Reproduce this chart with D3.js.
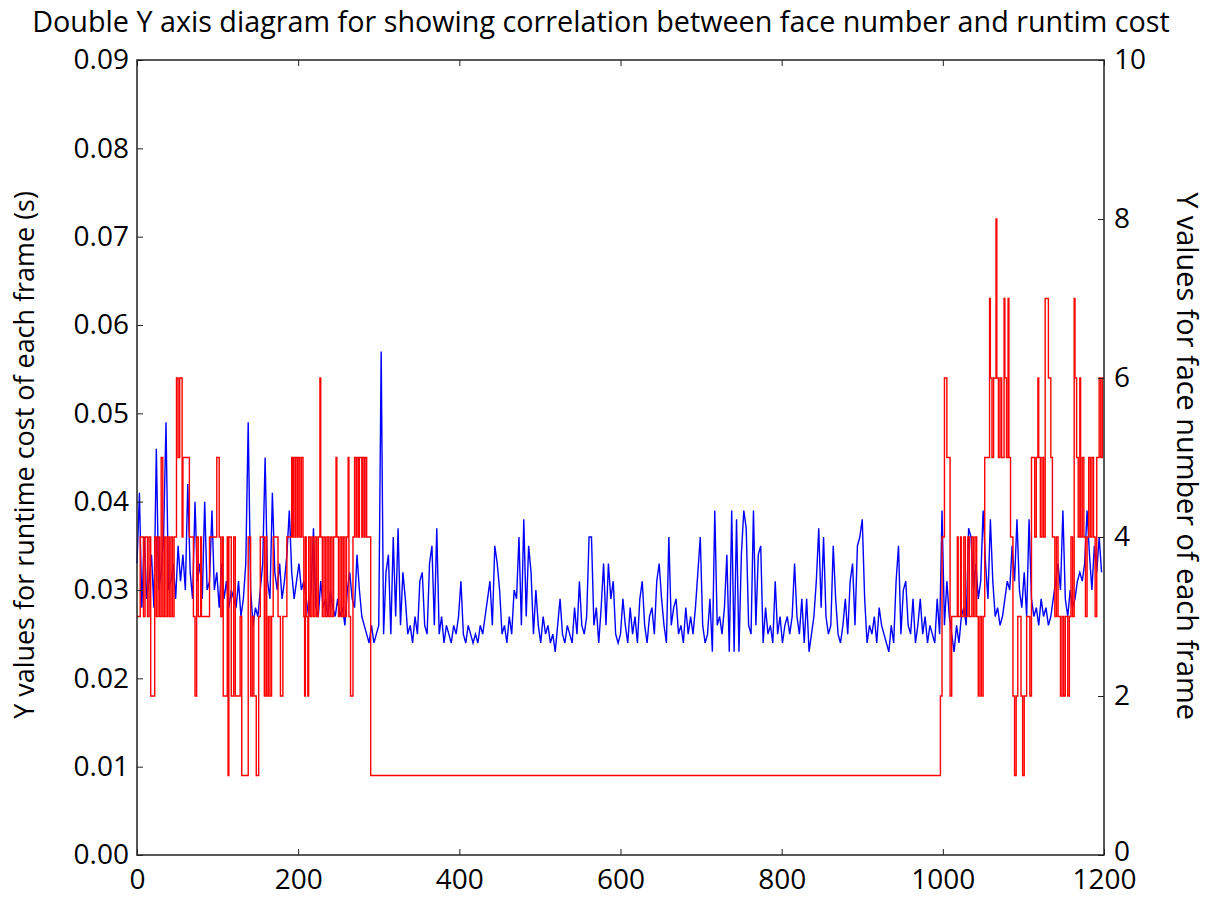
<!DOCTYPE html>
<html>
<head>
<meta charset="utf-8">
<script src="https://cdn.jsdelivr.net/npm/d3@7"></script>
<style>
  body { margin: 0; background: #fff; }
  text { font-family: "Open Sans", "Noto Sans", sans-serif; fill: #000; }
</style>
</head>
<body>
<div id="chart"></div>
<script>
// runtime cost per frame (s), read every 3rd frame starting at frame 0
const runtimeStep = 3;
const runtimeCost = [
  0.033, 0.041, 0.028, 0.036, 0.029, 0.031, 0.034, 0.028, 0.046, 0.030,
  0.032, 0.036, 0.049, 0.030, 0.031, 0.033, 0.029, 0.035, 0.031, 0.034,
  0.030, 0.042, 0.032, 0.029, 0.040, 0.031, 0.033, 0.029, 0.040, 0.030,
  0.031, 0.039, 0.030, 0.032, 0.028, 0.033, 0.029, 0.031, 0.028, 0.030,
  0.029, 0.028, 0.031, 0.027, 0.029, 0.033, 0.049, 0.030, 0.026, 0.028,
  0.027, 0.030, 0.033, 0.045, 0.031, 0.029, 0.041, 0.032, 0.030, 0.033,
  0.029, 0.031, 0.034, 0.039, 0.032, 0.029, 0.031, 0.033, 0.030, 0.031,
  0.029, 0.027, 0.030, 0.037, 0.028, 0.027, 0.031, 0.028, 0.029, 0.027,
  0.030, 0.028, 0.027, 0.029, 0.027, 0.028, 0.026, 0.030, 0.032, 0.029,
  0.028, 0.034, 0.030, 0.027, 0.026, 0.025, 0.024, 0.026, 0.024, 0.025,
  0.026, 0.057, 0.025, 0.032, 0.034, 0.025, 0.036, 0.027, 0.037, 0.026,
  0.032, 0.029, 0.025, 0.026, 0.024, 0.027, 0.025, 0.031, 0.032, 0.026,
  0.025, 0.033, 0.035, 0.026, 0.037, 0.025, 0.027, 0.024, 0.026, 0.025,
  0.024, 0.026, 0.025, 0.027, 0.031, 0.025, 0.024, 0.026, 0.025, 0.024,
  0.025, 0.024, 0.026, 0.025, 0.027, 0.029, 0.031, 0.026, 0.035, 0.033,
  0.030, 0.025, 0.026, 0.024, 0.027, 0.025, 0.030, 0.029, 0.036, 0.026,
  0.038, 0.027, 0.035, 0.032, 0.025, 0.030, 0.026, 0.024, 0.027, 0.025,
  0.026, 0.024, 0.025, 0.023, 0.026, 0.029, 0.025, 0.024, 0.026, 0.025,
  0.024, 0.028, 0.025, 0.031, 0.026, 0.025, 0.027, 0.036, 0.036, 0.026,
  0.028, 0.024, 0.028, 0.033, 0.026, 0.033, 0.029, 0.031, 0.025, 0.024,
  0.025, 0.029, 0.026, 0.024, 0.028, 0.025, 0.027, 0.024, 0.029, 0.031,
  0.026, 0.024, 0.027, 0.028, 0.025, 0.031, 0.033, 0.029, 0.026, 0.024,
  0.036, 0.026, 0.028, 0.029, 0.025, 0.026, 0.024, 0.028, 0.025, 0.027,
  0.025, 0.028, 0.032, 0.036, 0.026, 0.024, 0.025, 0.029, 0.023, 0.039,
  0.026, 0.027, 0.025, 0.028, 0.034, 0.023, 0.039, 0.023, 0.038, 0.023,
  0.034, 0.039, 0.037, 0.026, 0.025, 0.039, 0.026, 0.034, 0.035, 0.024,
  0.028, 0.025, 0.026, 0.024, 0.031, 0.025, 0.027, 0.024, 0.026, 0.027,
  0.025, 0.027, 0.033, 0.027, 0.025, 0.029, 0.024, 0.029, 0.023, 0.025,
  0.027, 0.031, 0.037, 0.028, 0.036, 0.027, 0.025, 0.026, 0.035, 0.029,
  0.025, 0.024, 0.026, 0.029, 0.025, 0.031, 0.033, 0.026, 0.035, 0.036,
  0.038, 0.029, 0.024, 0.026, 0.025, 0.027, 0.024, 0.028, 0.026, 0.025,
  0.024, 0.023, 0.026, 0.024, 0.031, 0.035, 0.025, 0.030, 0.031, 0.026,
  0.025, 0.029, 0.024, 0.026, 0.029, 0.025, 0.027, 0.024, 0.026, 0.025,
  0.024, 0.029, 0.025, 0.039, 0.026, 0.031, 0.027, 0.025, 0.023, 0.026,
  0.024, 0.027, 0.028, 0.026, 0.037, 0.036, 0.030, 0.033, 0.029, 0.031,
  0.039, 0.033, 0.029, 0.038, 0.031, 0.027, 0.028, 0.026, 0.027, 0.029,
  0.031, 0.030, 0.035, 0.031, 0.038, 0.030, 0.028, 0.032, 0.027, 0.038,
  0.029, 0.027, 0.028, 0.026, 0.029, 0.027, 0.028, 0.026, 0.027, 0.029,
  0.031, 0.033, 0.030, 0.039, 0.029, 0.027, 0.030, 0.028, 0.029, 0.031,
  0.032, 0.031, 0.033, 0.039, 0.034, 0.030, 0.035, 0.032, 0.036, 0.032
];

// face number: frame where the count changes, and the new count
const faceFrames = [
  0, 4, 8, 10, 13, 15, 17, 22, 24, 26, 28, 30, 32, 34, 36, 38, 40, 42, 44, 46,
  49, 51, 53, 56, 57, 65, 70, 72, 74, 76, 79, 80, 90, 99, 102, 104, 106, 107, 112, 113,
  114, 117, 120, 122, 128, 130, 138, 141, 143, 145, 148, 151, 153, 158, 160, 161, 163, 165, 167, 169,
  175, 178, 181, 186, 192, 193, 194, 196, 197, 199, 200, 202, 204, 206, 207, 208, 209, 210, 212, 213,
  215, 217, 219, 221, 223, 225, 227, 228, 230, 232, 234, 236, 238, 240, 242, 244, 247, 248, 250, 252,
  254, 256, 258, 260, 262, 263, 265, 268, 270, 272, 273, 275, 276, 279, 280, 282, 283, 285, 290, 997,
  999, 1002, 1005, 1009, 1011, 1018, 1019, 1022, 1023, 1026, 1028, 1031, 1033, 1036, 1038, 1040, 1042, 1044, 1046, 1048,
  1050, 1052, 1058, 1059, 1061, 1063, 1066, 1067, 1069, 1071, 1073, 1076, 1077, 1079, 1081, 1082, 1084, 1087, 1089, 1091,
  1093, 1097, 1099, 1101, 1104, 1108, 1110, 1114, 1116, 1118, 1119, 1121, 1123, 1125, 1127, 1131, 1134, 1136, 1139, 1141,
  1143, 1146, 1148, 1150, 1152, 1155, 1157, 1159, 1161, 1163, 1164, 1166, 1168, 1170, 1171, 1173, 1175, 1177, 1179, 1181,
  1183, 1185, 1187, 1189, 1191, 1194, 1196, 1198, 1200
];
const faceCount = [
  3, 4, 3, 4, 3, 4, 2, 4, 3, 4, 3, 5, 3, 4, 3, 4, 3, 4, 3, 4,
  6, 5, 6, 4, 5, 4, 3, 2, 4, 3, 4, 3, 4, 5, 4, 3, 4, 2, 4, 1,
  4, 2, 4, 2, 3, 1, 4, 2, 3, 2, 1, 3, 4, 2, 4, 2, 3, 2, 3, 4,
  3, 2, 3, 4, 5, 4, 5, 4, 5, 4, 5, 4, 5, 4, 3, 2, 4, 3, 2, 4,
  3, 4, 3, 4, 3, 4, 6, 4, 3, 4, 3, 4, 3, 4, 3, 4, 5, 4, 3, 4,
  3, 4, 3, 4, 5, 3, 2, 4, 5, 4, 5, 4, 5, 4, 5, 4, 5, 4, 1, 2,
  4, 6, 5, 2, 3, 4, 3, 4, 3, 4, 3, 4, 3, 4, 3, 4, 3, 2, 3, 2,
  3, 5, 7, 6, 5, 6, 8, 6, 5, 6, 5, 7, 6, 5, 7, 5, 4, 2, 1, 2,
  3, 2, 1, 2, 3, 2, 5, 4, 5, 6, 5, 4, 5, 4, 7, 6, 5, 4, 3, 4,
  3, 2, 3, 2, 3, 2, 3, 4, 3, 7, 6, 5, 4, 6, 4, 5, 4, 3, 4, 5,
  4, 5, 4, 3, 5, 6, 5, 6, 6
];

const xTicks = [0, 200, 400, 600, 800, 1000, 1200];
const leftTicks = [0, 0.01, 0.02, 0.03, 0.04, 0.05, 0.06, 0.07, 0.08, 0.09];
const rightTicks = [0, 2, 4, 6, 8, 10];

const W = 1216, H = 899;
const margin = { top: 60, right: 112, bottom: 44, left: 137 };
const iw = W - margin.left - margin.right;
const ih = H - margin.top - margin.bottom;

const svg = d3.select("#chart").append("svg")
  .attr("width", W)
  .attr("height", H);

const g = svg.append("g")
  .attr("transform", "translate(" + margin.left + "," + margin.top + ")");

const x = d3.scaleLinear().domain([0, 1200]).range([0, iw]);
const yL = d3.scaleLinear().domain([0, 0.09]).range([ih, 0]);
const yR = d3.scaleLinear().domain([0, 10]).range([ih, 0]);

const blueData = runtimeCost.map((v, i) => [i * runtimeStep, v]);
const redData = faceFrames.map((f, i) => [f, faceCount[i]]);

// runtime line (left axis)
g.append("path")
  .datum(blueData)
  .attr("fill", "none")
  .attr("stroke", "#0000ff")
  .attr("stroke-width", 1.4)
  .attr("d", d3.line().x(d => x(d[0])).y(d => yL(d[1])));

// face number line (right axis), drawn on top like a twinx plot
g.append("path")
  .datum(redData)
  .attr("fill", "none")
  .attr("stroke", "#ff0000")
  .attr("stroke-width", 1.4)
  .attr("d", d3.line().curve(d3.curveStepAfter).x(d => x(d[0])).y(d => yR(d[1])));

// axes with inward ticks
const tickLen = 6;
const fs = 28;

const xAxis = g.append("g")
  .attr("transform", "translate(0," + ih + ")")
  .call(d3.axisBottom(x).tickValues(xTicks).tickSizeInner(-tickLen).tickSizeOuter(0)
    .tickPadding(14).tickFormat(d3.format("d")));
const xTop = g.append("g")
  .call(d3.axisTop(x).tickValues(xTicks).tickSizeInner(-tickLen).tickSizeOuter(0).tickFormat(""));
const yAxisL = g.append("g")
  .call(d3.axisLeft(yL).tickValues(leftTicks).tickSizeInner(-tickLen).tickSizeOuter(0)
    .tickPadding(8).tickFormat(d3.format(".2f")));
const yAxisR = g.append("g")
  .attr("transform", "translate(" + iw + ",0)")
  .call(d3.axisRight(yR).tickValues(rightTicks).tickSizeInner(-tickLen).tickSizeOuter(0).tickPadding(10));

[xAxis, xTop, yAxisL, yAxisR].forEach(a => {
  a.select(".domain").remove();
  a.selectAll(".tick line").attr("stroke", "#222").attr("stroke-width", 1);
  a.selectAll("text").style("font-size", fs + "px").attr("fill", "#000");
});
xAxis.selectAll("text").attr("dy", "0.71em");
yAxisR.selectAll("text").filter(d => d === 0).attr("dy", "0.2em");

// frame
g.append("rect")
  .attr("width", iw)
  .attr("height", ih)
  .attr("fill", "none")
  .attr("stroke", "#222")
  .attr("stroke-width", 1.5);

// fit text to the width seen in the picture
function fit(sel, target) {
  const len = sel.node().getComputedTextLength();
  const size = parseFloat(sel.style("font-size"));
  sel.style("font-size", (size * target / len) + "px");
}

const title = svg.append("text")
  .attr("x", 601)
  .attr("y", 32)
  .attr("text-anchor", "middle")
  .style("font-size", "24px")
  .text("Double Y axis diagram for showing correlation between face number and runtim cost");
fit(title, 1138);

const labL = svg.append("text")
  .attr("transform", "translate(34," + 455 + ") rotate(-90)")
  .attr("text-anchor", "middle")
  .style("font-size", "26px")
  .text("Y values for runtime cost of each frame (s)");
fit(labL, 528);

const labR = svg.append("text")
  .attr("transform", "translate(1177," + 456 + ") rotate(90)")
  .attr("text-anchor", "middle")
  .style("font-size", "26px")
  .text("Y values for face number of each frame");
fit(labR, 528);
</script>
</body>
</html>
